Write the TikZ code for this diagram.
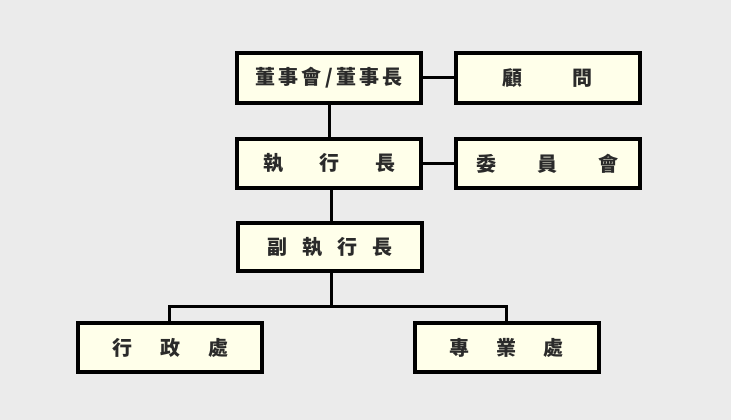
\documentclass[tikz,border=0pt]{standalone}
\usepackage{fontspec}
\newfontfamily\cjk{Noto Sans CJK TC}
\definecolor{bgc}{HTML}{EBEBEB}
\definecolor{cream}{HTML}{FFFFEA}
\definecolor{ink}{HTML}{2A2A2A}
\begin{document}
\begin{tikzpicture}[x=1pt,y=-1pt,
  orgbox/.style={draw=black, line width=4pt, fill=cream, inner sep=0pt,
    minimum width=184pt, minimum height=49pt, text=ink,
    font=\cjk\bfseries\fontsize{20}{20}\selectfont},
  conn/.style={draw=black, line width=3pt}]
\fill[bgc] (0,0) rectangle (731,420);
\useasboundingbox (0,0) rectangle (731,420);
\node[orgbox] (board) at (329,78) {董\hspace{3pt}事\hspace{3pt}會\hspace{3.5pt}/\hspace{3.5pt}董\hspace{3pt}事\hspace{3pt}長};
\node[orgbox] (adv) at (547.5,78) {顧\hspace{50pt}問};
\node[orgbox] (ceo) at (329,163.5) {執\hspace{36pt}行\hspace{36pt}長};
\node[orgbox] (com) at (547.5,163.5) {委\hspace{41pt}員\hspace{41pt}會};
\node[orgbox, minimum height=48pt] (dep) at (330,247) {副\hspace{15pt}執\hspace{15pt}行\hspace{15pt}長};
\node[orgbox] (adm) at (170,347.5) {行\hspace{28pt}政\hspace{28pt}處};
\node[orgbox] (pro) at (506.5,347.5) {專\hspace{27pt}業\hspace{27pt}處};
\coordinate (j) at (331,306);
\draw[conn] (board.east) -- (adv.west);
\draw[conn] (ceo.east) -- (com.west);
\draw[conn] (board.south) -- (ceo.north);
\draw[conn] (ceo.south -| j) -- (dep.north -| j);
\draw[conn] (dep.south -| j) -- (j);
\draw[conn, line join=miter] (adm.north -| 169,0) |- (j) -| (pro.north);
\end{tikzpicture}
\end{document}
